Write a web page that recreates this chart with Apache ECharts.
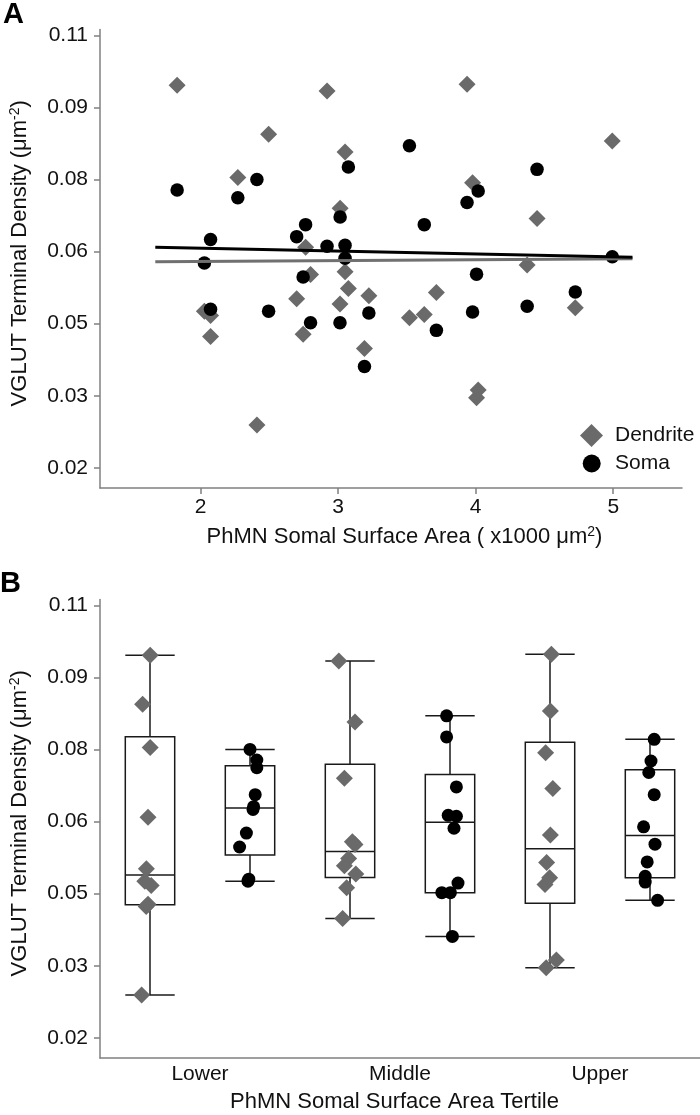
<!DOCTYPE html>
<html><head><meta charset="utf-8">
<script src="https://cdn.jsdelivr.net/npm/echarts@6.0.0/dist/echarts.min.js"></script>
<style>html,body{margin:0;padding:0;background:#fff}#c{width:700px;height:1115px}</style>
</head><body><div id="c"></div>
<script>
// Neurons sorted by somal surface area (x1000 um^2)
const somalArea = [1.829, 2.027, 2.072, 2.072, 2.270, 2.409, 2.494, 2.698, 2.745, 2.763,
                   2.799, 2.919, 3.013, 3.014, 3.050, 3.050, 3.074, 3.191, 3.223, 3.518,
                   3.626, 3.714, 3.937, 3.977, 4.006, 4.018, 4.374, 4.446, 4.724, 4.993];
const dendriteDensity = [0.0996, 0.0526, 0.0517, 0.0473, 0.0804, 0.0289, 0.0894, 0.0552, 0.0478, 0.0659,
                         0.0602, 0.0984, 0.0541, 0.0740, 0.0857, 0.0608, 0.0573, 0.0448, 0.0558, 0.0512,
                         0.0519, 0.0565, 0.0998, 0.0793, 0.0346, 0.0362, 0.0622, 0.0719, 0.0533, 0.0880];
const somaDensity = [0.0778, 0.0626, 0.0530, 0.0675, 0.0762, 0.0800, 0.0526, 0.0681, 0.0597, 0.0706,
                     0.0502, 0.0661, 0.0502, 0.0722, 0.0663, 0.0636, 0.0826, 0.0411, 0.0522, 0.0870,
                     0.0706, 0.0486, 0.0752, 0.0524, 0.0603, 0.0776, 0.0536, 0.0821, 0.0566, 0.0639];
// horizontal jitter of the points in panel B (category units)
const dendriteJitter = [0.001, -0.026, 0.006, -0.019, 0.001, -0.042, -0.037, -0.018, -0.010, -0.010,
                        0.025, -0.056, 0.029, -0.028, 0.025, 0.012, -0.007, -0.037, -0.028, -0.017,
                        -0.025, -0.017, 0.007, -0.022, -0.019, 0.032, 0.002, 0.014, -0.002, 0.002];
const somaJitter = [0.034, -0.018, -0.006, 0.015, 0.034, 0.000, -0.010, 0.018, -0.052, 0.026,
                    -0.041, 0.032, 0.002, 0.032, -0.009, 0.020, -0.017, 0.012, 0.040, -0.017,
                    0.021, 0.038, -0.006, -0.024, 0.025, 0.005, -0.024, 0.021, -0.014, -0.032];
// regression lines (endpoints)
const fitX = [1.67, 5.14];
const dendriteFit = [0.0629, 0.0635];
const somaFit = [0.0659, 0.0638];
// axes
const yTickValues = [0.02, 0.035, 0.05, 0.065, 0.08, 0.095, 0.11];
const yTickLabels = ['0.02', '0.03', '0.05', '0.06', '0.08', '0.09', '0.11'];
const xTickValues = [2, 3, 4, 5];
const tertiles = ['Lower', 'Middle', 'Upper'];

const FONT = '"Liberation Sans", Arial, sans-serif';
const GRAY = '#6a6a6a';
const AXIS = '#808080';

function quantile(sorted, p) {
  const n = sorted.length;
  let pos = p * (n + 1) - 1;
  if (pos <= 0) return sorted[0];
  if (pos >= n - 1) return sorted[n - 1];
  const lo = Math.floor(pos), f = pos - lo;
  return sorted[lo] + f * (sorted[lo + 1] - sorted[lo]);
}

const boxData = [];
const bDend = [], bSoma = [];
tertiles.forEach((t, ti) => {
  const idx = somalArea.map((_, i) => i).filter(i => Math.floor(i / 10) === ti);
  [[dendriteDensity, -0.25], [somaDensity, 0.25]].forEach(([arr, off]) => {
    const s = idx.map(i => arr[i]).sort((a, b) => a - b);
    boxData.push([ti + off, s[0], quantile(s, 0.25), quantile(s, 0.5), quantile(s, 0.75), s[s.length - 1]]);
  });
  idx.forEach(i => {
    bDend.push([ti - 0.25 + dendriteJitter[i], dendriteDensity[i]]);
    bSoma.push([ti + 0.25 + somaJitter[i], somaDensity[i]]);
  });
});

const yLabelFmt = v => {
  const k = Math.round((v - 0.02) / 0.015);
  return yTickLabels[k] !== undefined ? yTickLabels[k] : '';
};
const labelStyle = {fontFamily: FONT, fontSize: 21, color: '#111'};
const nameStyleBase = {fontFamily: FONT, fontSize: 22, color: '#111', lineHeight: 24,
  rich: {sup: {fontFamily: FONT, fontSize: 14, lineHeight: 14, verticalAlign: 'top', color: '#111'}}};

function yAxisCfg(gridIndex, padTop) {
  return {
    type: 'value', gridIndex, min: 0.0158, max: 0.1112,
    name: 'VGLUT Terminal Density (μm{sup|-2})', nameLocation: 'middle', nameGap: 68, nameRotate: 90,
    nameTextStyle: Object.assign({}, nameStyleBase, {padding: [0, 0, 0, padTop]}),
    axisLine: {show: true, onZero: false, lineStyle: {color: AXIS, width: 1.5}},
    axisTick: {show: true, length: 6, customValues: yTickValues, lineStyle: {color: AXIS, width: 1.5}},
    axisLabel: Object.assign({customValues: yTickValues, formatter: yLabelFmt, margin: 12}, labelStyle),
    splitLine: {show: false}
  };
}

const chart = echarts.init(document.getElementById('c'), null, {renderer: 'canvas'});
chart.setOption({
  animation: false,
  backgroundColor: '#fff',
  grid: [
    {left: 94, top: 29.5, width: 588, height: 458.5},
    {left: 94, top: 599.5, width: 616.2, height: 460.5}
  ],
  xAxis: [
    {
      type: 'value', gridIndex: 0, min: 1.268, max: 5.5,
      name: 'PhMN Somal Surface Area ( x1000 μm{sup|2})', nameLocation: 'middle', nameGap: 37,
      nameTextStyle: Object.assign({}, nameStyleBase, {padding: [0, 0, 0, 27]}),
      axisLine: {show: true, onZero: false, lineStyle: {color: AXIS, width: 1.5}},
      axisTick: {show: true, length: 6, customValues: xTickValues, lineStyle: {color: AXIS, width: 1.5}},
      axisLabel: Object.assign({customValues: xTickValues, margin: 9}, labelStyle),
      splitLine: {show: false}
    },
    {
      type: 'value', gridIndex: 1, min: -0.5, max: 2.5,
      name: 'PhMN Somal Surface Area Tertile', nameLocation: 'middle', nameGap: 32,
      nameTextStyle: Object.assign({}, nameStyleBase, {padding: [0, 11, 0, 0]}),
      axisLine: {show: true, onZero: false, lineStyle: {color: AXIS, width: 1.5}},
      axisTick: {show: false},
      axisLabel: Object.assign({customValues: [0, 1, 2], formatter: v => tertiles[Math.round(v)], margin: 6}, labelStyle),
      splitLine: {show: false}
    }
  ],
  yAxis: [yAxisCfg(0, 11), yAxisCfg(1, 11)],
  legend: [
    {data: [{name: 'Dendrite', icon: 'diamond'}], left: 580, top: 424, padding: 0, itemWidth: 23, itemHeight: 23,
     selectedMode: false, textStyle: Object.assign({padding: [0, 0, 0, 7]}, labelStyle)},
    {data: [{name: 'Soma', icon: 'circle'}], left: 582.7, top: 453, padding: 0, itemWidth: 18, itemHeight: 18,
     selectedMode: false, textStyle: Object.assign({padding: [0, 0, 0, 9.3]}, labelStyle)}
  ],
  graphic: [
    {type: 'text', x: 3, y: 15, style: {text: 'A', font: 'bold 29px ' + FONT, fill: '#000', verticalAlign: 'middle', textVerticalAlign: 'middle'}},
    {type: 'text', x: 0, y: 584, style: {text: 'B', font: 'bold 29px ' + FONT, fill: '#000', verticalAlign: 'middle', textVerticalAlign: 'middle'}}
  ],
  series: [
    {name: 'Dendrite', type: 'scatter', xAxisIndex: 0, yAxisIndex: 0, symbol: 'diamond', symbolSize: 17,
     itemStyle: {color: GRAY, opacity: 1}, z: 2, silent: true,
     data: somalArea.map((x, i) => [x, dendriteDensity[i]])},
    {name: 'Soma', type: 'scatter', xAxisIndex: 0, yAxisIndex: 0, symbol: 'circle', symbolSize: 13.5,
     itemStyle: {color: '#000', opacity: 1}, z: 3, silent: true,
     data: somalArea.map((x, i) => [x, somaDensity[i]])},
    {name: 'dendriteFit', type: 'line', xAxisIndex: 0, yAxisIndex: 0, symbol: 'none', z: 4, silent: true,
     lineStyle: {color: '#707070', width: 3}, data: fitX.map((x, i) => [x, dendriteFit[i]])},
    {name: 'somaFit', type: 'line', xAxisIndex: 0, yAxisIndex: 0, symbol: 'none', z: 5, silent: true,
     lineStyle: {color: '#000', width: 3}, data: fitX.map((x, i) => [x, somaFit[i]])},
    {name: 'boxes', type: 'custom', xAxisIndex: 1, yAxisIndex: 1, z: 2, silent: true,
     encode: {x: 0, y: [1, 2, 3, 4, 5]},
     data: boxData,
     renderItem: function (params, api) {
       const x = api.value(0);
       const pMin = api.coord([x, api.value(1)]);
       const pQ1 = api.coord([x, api.value(2)]);
       const pMed = api.coord([x, api.value(3)]);
       const pQ3 = api.coord([x, api.value(4)]);
       const pMax = api.coord([x, api.value(5)]);
       const hw = api.size([0.247, 0])[0] / 2;
       const cx = pMed[0];
       const st = {stroke: '#1a1a1a', lineWidth: 1.5, fill: 'none'};
       return {type: 'group', children: [
         {type: 'rect', shape: {x: cx - hw, y: pQ3[1], width: 2 * hw, height: pQ1[1] - pQ3[1]}, style: st},
         {type: 'line', shape: {x1: cx - hw, y1: pMed[1], x2: cx + hw, y2: pMed[1]}, style: st},
         {type: 'line', shape: {x1: cx, y1: pQ3[1], x2: cx, y2: pMax[1]}, style: st},
         {type: 'line', shape: {x1: cx, y1: pQ1[1], x2: cx, y2: pMin[1]}, style: st},
         {type: 'line', shape: {x1: cx - hw, y1: pMax[1], x2: cx + hw, y2: pMax[1]}, style: st},
         {type: 'line', shape: {x1: cx - hw, y1: pMin[1], x2: cx + hw, y2: pMin[1]}, style: st}
       ]};
     }},
    {name: 'DendriteB', type: 'scatter', xAxisIndex: 1, yAxisIndex: 1, symbol: 'diamond', symbolSize: 17,
     itemStyle: {color: GRAY, opacity: 1}, z: 3, silent: true, data: bDend},
    {name: 'SomaB', type: 'scatter', xAxisIndex: 1, yAxisIndex: 1, symbol: 'circle', symbolSize: 13,
     itemStyle: {color: '#000', opacity: 1}, z: 4, silent: true, data: bSoma}
  ]
});
</script>
</body></html>
